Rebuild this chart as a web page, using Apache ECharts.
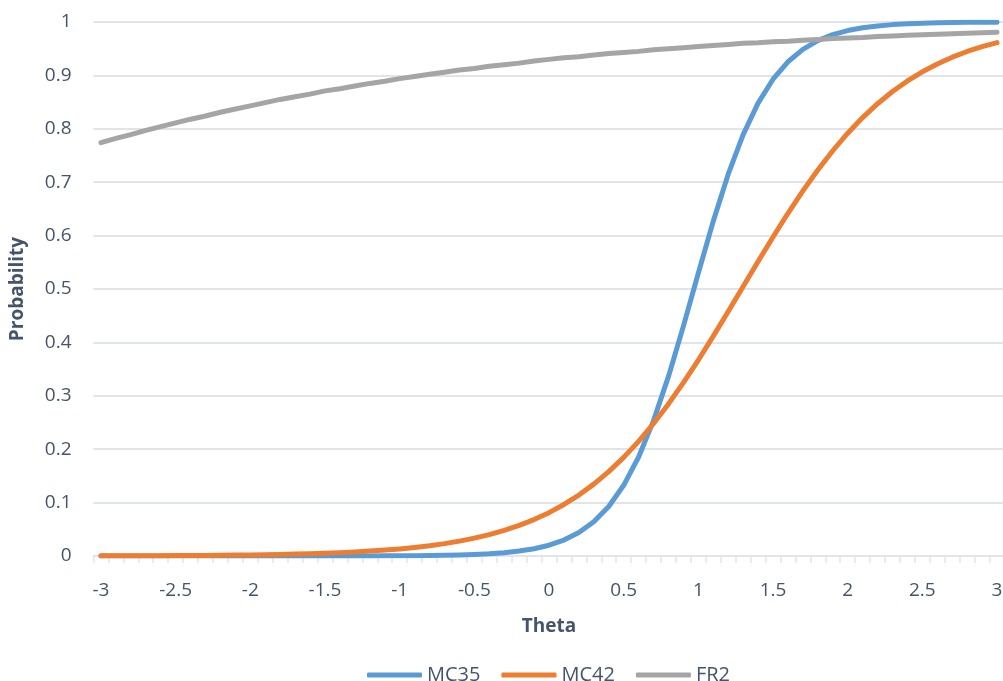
<!DOCTYPE html>
<html>
<head>
<meta charset="utf-8">
<script src="https://cdn.jsdelivr.net/npm/echarts@6/dist/echarts.min.js"></script>
<style>
html,body{margin:0;padding:0;background:#fff;}
#chart{width:1003px;height:681px;}
</style>
</head>
<body>
<div id="chart"></div>
<script>
var theta = ["-3","-2.9","-2.8","-2.7","-2.6","-2.5","-2.4","-2.3","-2.2","-2.1",
  "-2","-1.9","-1.8","-1.7","-1.6","-1.5","-1.4","-1.3","-1.2","-1.1",
  "-1","-0.9","-0.8","-0.7","-0.6","-0.5","-0.4","-0.3","-0.2","-0.1",
  "0","0.1","0.2","0.3","0.4","0.5","0.6","0.7","0.8","0.9",
  "1","1.1","1.2","1.3","1.4","1.5","1.6","1.7","1.8","1.9",
  "2","2.1","2.2","2.3","2.4","2.5","2.6","2.7","2.8","2.9","3"];

var mc35 = [0.00000,0.00000,0.00000,0.00000,0.00000,0.00000,0.00000,0.00000,0.00000,0.00000,
  0.00001,0.00001,0.00002,0.00002,0.00003,0.00005,0.00008,0.00011,0.00017,0.00025,
  0.00038,0.00056,0.00084,0.00125,0.00187,0.00279,0.00415,0.00618,0.00919,0.01365,
  0.0202,0.0299,0.0439,0.0642,0.0928,0.1324,0.1854,0.2535,0.3363,0.4305,
  0.5300,0.6271,0.7150,0.7892,0.8481,0.8928,0.9255,0.9488,0.9651,0.9764,
  0.9840,0.9892,0.9927,0.9951,0.9967,0.9978,0.9985,0.9990,0.9993,0.9996,0.9997];

var mc42 = [0.00031,0.00038,0.00046,0.00055,0.00067,0.00080,0.00097,0.00117,0.00141,0.00170,
  0.00206,0.00248,0.00299,0.00361,0.00435,0.00525,0.00632,0.00762,0.00918,0.01106,
  0.01332,0.01603,0.01928,0.02317,0.02782,0.03343,0.04003,0.04792,0.05725,0.06824,
  0.08114,0.09649,0.1141,0.1346,0.1580,0.1847,0.2147,0.2481,0.2848,0.3246,
  0.3670,0.4117,0.4579,0.5047,0.5516,0.5975,0.6418,0.6837,0.7229,0.7589,
  0.7917,0.8210,0.8470,0.8698,0.8896,0.9068,0.9215,0.9341,0.9448,0.9538,0.9614];

var fr2 = [0.774,0.782,0.789,0.797,0.804,0.811,0.818,0.824,0.831,0.837,
  0.843,0.849,0.855,0.860,0.865,0.871,0.875,0.880,0.885,0.889,
  0.894,0.898,0.902,0.906,0.910,0.913,0.917,0.920,0.923,0.927,
  0.930,0.933,0.935,0.938,0.941,0.943,0.945,0.948,0.950,0.952,
  0.954,0.956,0.958,0.960,0.961,0.963,0.964,0.966,0.967,0.969,
  0.970,0.971,0.973,0.974,0.975,0.976,0.977,0.978,0.979,0.980,0.981];

var seriesNames = ["MC35","MC42","FR2"];
var seriesColors = ["#5B9BD5","#ED7D31","#A5A5A5"];
var seriesData = [mc35, mc42, fr2];

var textColor = "#44546A";
var gridColor = "#E1E5EA";
var fontFam = "'Open Sans', 'Liberation Sans', sans-serif";

var chart = echarts.init(document.getElementById('chart'), null, {renderer:'canvas'});
chart.setOption({
  animation: false,
  backgroundColor: '#ffffff',
  grid: {left: 93.5, right: -1.5, top: 22, bottom: 125, containLabel: false, outerBoundsMode: 'none'},
  legend: {
    data: seriesNames,
    left: 362,
    top: 660,
    icon: 'roundRect',
    itemWidth: 55,
    itemHeight: 5,
    itemGap: 21,
    textStyle: {color: textColor, fontSize: 20, fontFamily: fontFam}
  },
  xAxis: {
    type: 'category',
    data: theta,
    boundaryGap: true,
    name: 'Theta',
    nameLocation: 'middle',
    nameGap: 61,
    nameTextStyle: {color: textColor, fontSize: 19, fontWeight: 'bold', fontFamily: fontFam},
    axisLine: {lineStyle: {color: gridColor, width: 2}},
    axisTick: {show: true, interval: 0, length: 7, lineStyle: {color: gridColor, width: 1.5}},
    axisLabel: {interval: 4, color: textColor, fontSize: 19, fontFamily: fontFam, margin: 25},
    splitLine: {show: false}
  },
  yAxis: {
    type: 'value',
    min: 0, max: 1, interval: 0.1,
    name: 'Probability',
    nameLocation: 'middle',
    nameGap: 66,
    nameTextStyle: {color: textColor, fontSize: 19, fontWeight: 'bold', fontFamily: fontFam},
    axisLine: {show: false},
    axisTick: {show: false},
    axisLabel: {color: textColor, fontSize: 19, fontFamily: fontFam, margin: 22,
      formatter: function(v){ return String(Math.round(v*10)/10); }},
    splitLine: {lineStyle: {color: gridColor, width: 2}}
  },
  series: seriesNames.map(function(n, i){
    return {
      name: n,
      type: 'line',
      data: seriesData[i],
      showSymbol: false,
      symbol: 'none',
      color: seriesColors[i],
      lineStyle: {width: 5, color: seriesColors[i], cap: 'round', join: 'round'},
      emphasis: {disabled: true}
    };
  })
});
</script>
</body>
</html>
